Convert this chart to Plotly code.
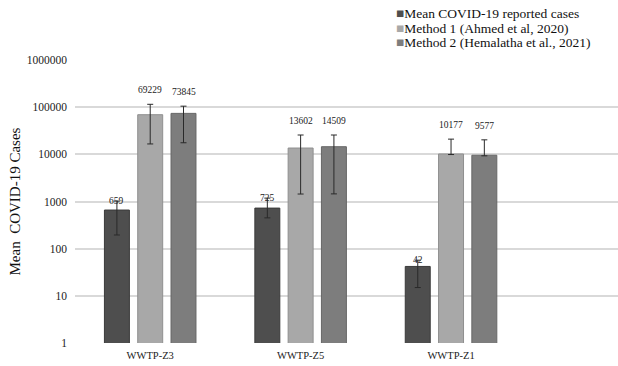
import math
import plotly.graph_objects as go

categories = ["WWTP-Z3", "WWTP-Z5", "WWTP-Z1"]
series_names = ["Mean COVID-19 reported cases",
                "Method 1 (Ahmed et al, 2020)",
                "Method 2 (Hemalatha et al., 2021)"]
reported = [659, 725, 42]
reported_hi = [1020, 1180, 57]
reported_lo = [195, 450, 15]
method1 = [69229, 13602, 10177]
method1_hi = [115000, 25700, 21000]
method1_lo = [16600, 1440, 9900]
method2 = [73845, 14509, 9577]
method2_hi = [105000, 25700, 20300]
method2_lo = [17600, 1450, 9300]
y_ticks = [1, 10, 100, 1000, 10000, 100000, 1000000]
y_ticktext = ["1", "10", "100", "1000", "10000", "100000", "1000000"]

colors = ["#4e4e4e", "#a8a8a8", "#7d7d7d"]
edge = ["#3a3a3a", "#8f8f8f", "#666666"]
FONT = "Liberation Serif"

W, H = 618, 366
L, T, B, R = 75, 60, 23, 0
pw, ph = W - L - R, H - T - B

series = [(reported, reported_hi, reported_lo),
          (method1, method1_hi, method1_lo),
          (method2, method2_hi, method2_lo)]

fig = go.Figure()
for i, (vals, hi, lo) in enumerate(series):
    fig.add_trace(go.Bar(
        x=categories, y=vals, name=series_names[i],
        marker=dict(color=colors[i], line=dict(color=edge[i], width=1)),
        error_y=dict(type="data", symmetric=False,
                     array=[h - v for h, v in zip(hi, vals)],
                     arrayminus=[v - l for v, l in zip(vals, lo)],
                     color="#2a2a2a", thickness=1, width=3),
        showlegend=False,
    ))

annotations = []
offsets = [-1, 0, 1]
slot = (1 - 0.336) / 3
for i, (vals, hi, lo) in enumerate(series):
    for j, v in enumerate(vals):
        annotations.append(dict(
            x=j + offsets[i] * slot, y=math.log10(hi[j]), xref="x", yref="y",
            text=str(v), showarrow=False,
            font=dict(family=FONT, size=9.5, color="#222222"),
            yanchor="middle" if i == 0 else "bottom",
            yshift=0 if i == 0 else 7,
        ))

# legend drawn as text lines (pixel rows converted to paper coords)
for i, name in enumerate(series_names):
    px, py = 394, 14 + 14 * i
    annotations.append(dict(
        x=(px - L) / pw, y=1 - (py - T) / ph, xref="paper", yref="paper",
        text=f'<span style="color:{colors[i]}">■</span>{name}',
        showarrow=False, xanchor="left", yanchor="middle",
        font=dict(family=FONT, size=13.5, color="#111111"),
    ))

annotations.append(dict(
    x=(14 - L) / pw, y=0.5, xref="paper", yref="paper",
    text="Mean  COVID-19 Cases", textangle=-90, showarrow=False,
    font=dict(family=FONT, size=15, color="#111111"),
    xanchor="center", yanchor="middle",
))

fig.update_layout(
    width=W, height=H,
    margin=dict(l=L, r=R, t=T, b=B, autoexpand=False),
    paper_bgcolor="white", plot_bgcolor="white",
    barmode="group", bargap=0.336, bargroupgap=0.25,
    font=dict(family=FONT, color="#222222"),
    annotations=annotations,
    xaxis=dict(range=[-0.5, 3.11], showgrid=False, showline=False,
               ticks="", ticklabelstandoff=4,
               tickfont=dict(family=FONT, size=10.5, color="#222222"),
               zeroline=False),
    yaxis=dict(type="log", range=[0, 6], tickvals=y_ticks, ticktext=y_ticktext,
               showgrid=True, gridcolor="#d9d9d9", gridwidth=1.5,
               showline=False, zeroline=False, ticks="", ticklabelstandoff=7,
               tickfont=dict(family=FONT, size=11.5, color="#222222")),
)
fig.write_html("out.html", config={"displayModeBar": False},
               post_script="document.body.style.margin='0';document.body.style.overflow='hidden';")
